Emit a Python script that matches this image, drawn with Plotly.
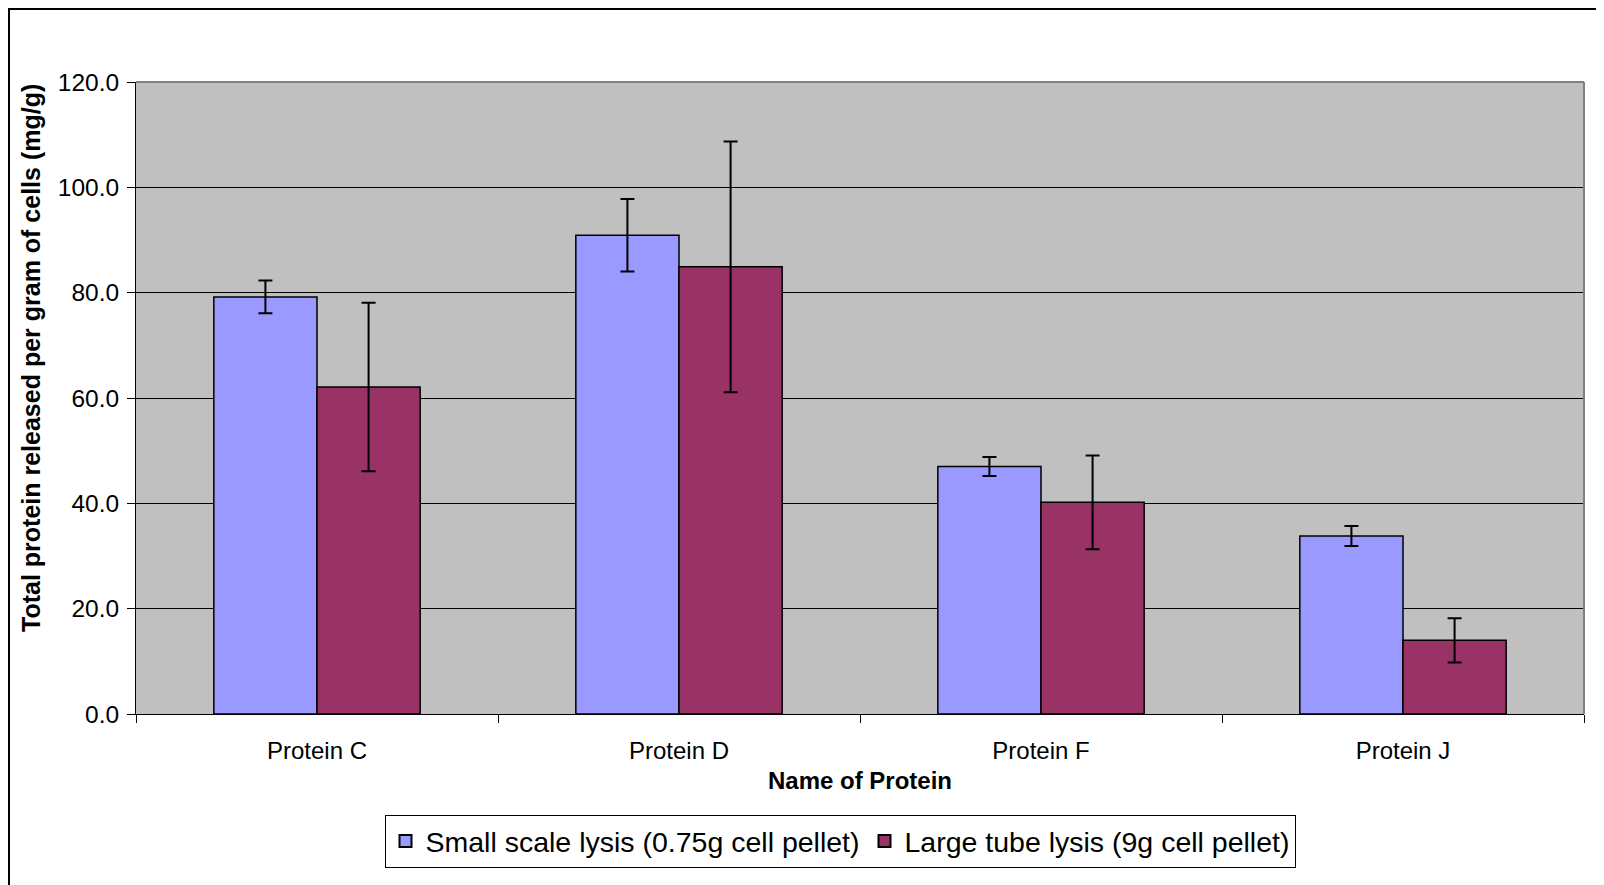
import plotly.graph_objects as go

categories = ["Protein C", "Protein D", "Protein F", "Protein J"]
small_vals = [79.2, 90.9, 47.0, 33.8]
small_err = [3.1, 6.9, 1.8, 1.9]
large_vals = [62.1, 84.9, 40.2, 14.0]
large_err = [16.0, 23.8, 8.9, 4.2]
series_names = ["Small scale lysis (0.75g cell pellet)", "Large tube lysis (9g cell pellet)"]
y_ticks = [0, 20, 40, 60, 80, 100, 120]

FONT = "Liberation Sans, Arial, sans-serif"

fig = go.Figure()
fig.add_trace(go.Bar(
    x=categories, y=small_vals, name=series_names[0],
    marker=dict(color="#9999FF", line=dict(color="black", width=1.5)),
    error_y=dict(type="data", array=small_err, visible=True, color="black", thickness=2, width=7),
))
fig.add_trace(go.Bar(
    x=categories, y=large_vals, name=series_names[1],
    marker=dict(color="#993366", line=dict(color="black", width=1.5)),
    error_y=dict(type="data", array=large_err, visible=True, color="black", thickness=2, width=7),
))

# page has an 8px body margin; figure coords = page coords - 8
OFF = 8
W, H = 1604 - OFF, 885 - OFF
L, R, T, B = 136 - OFF, 20, 82 - OFF, 885 - 714
pw, ph = W - L - R, H - T - B

def px_x(p):
    return (p - OFF - L) / pw

def px_y(p):
    return (H - B - (p - OFF)) / ph

fig.update_layout(
    width=W, height=H, autosize=False,
    margin=dict(l=L, r=R, t=T, b=B, pad=0),
    paper_bgcolor="white", plot_bgcolor="#C0C0C0",
    barmode="group", bargap=0.43, bargroupgap=0,
    font=dict(family=FONT, size=24, color="black"),
    showlegend=True,
    legend=dict(
        orientation="h", x=px_x(840), xanchor="center", y=px_y(815), yanchor="top",
        bordercolor="black", borderwidth=1, bgcolor="white",
        font=dict(family=FONT, size=28.5, color="black"),
        itemsizing="constant", traceorder="normal",
    ),
    xaxis=dict(
        type="category", tickson="boundaries", ticks="outside", ticklen=8, tickcolor="black",
        showline=True, linecolor="black", linewidth=1, showgrid=False,
        tickfont=dict(family=FONT, size=24, color="black"), ticklabelstandoff=15,
        range=[-0.5, 3.5],
    ),
    yaxis=dict(
        range=[0, 120], tickvals=y_ticks, tickformat=".1f", ticks="outside", ticklen=8, tickcolor="black",
        showline=True, linecolor="black", linewidth=1,
        showgrid=True, gridcolor="black", gridwidth=1, zeroline=False,
        tickfont=dict(family=FONT, size=24.5, color="black"), ticklabelstandoff=3,
    ),
    annotations=[
        dict(text="<b>Name of Protein</b>", xref="paper", yref="paper", x=0.5, y=px_y(781),
             xanchor="center", yanchor="middle", showarrow=False,
             font=dict(family=FONT, size=24, color="black")),
        dict(text="<b>Total protein released per gram of cells (mg/g)</b>", xref="paper", yref="paper",
             x=px_x(31), y=px_y(358), xanchor="center", yanchor="middle", textangle=-90,
             showarrow=False, font=dict(family=FONT, size=25, color="black")),
    ],
    shapes=[
        dict(type="line", xref="paper", yref="paper", x0=0, x1=1, y0=1, y1=1,
             line=dict(color="#808080", width=2)),
        dict(type="line", xref="paper", yref="paper", x0=1, x1=1, y0=0, y1=1,
             line=dict(color="#808080", width=2)),
        dict(type="rect", xref="paper", yref="paper", x0=px_x(9), x1=px_x(1599),
             y0=px_y(900), y1=px_y(OFF + 1), line=dict(color="black", width=2), layer="below"),
    ],
)

fig.write_html("out.html")
